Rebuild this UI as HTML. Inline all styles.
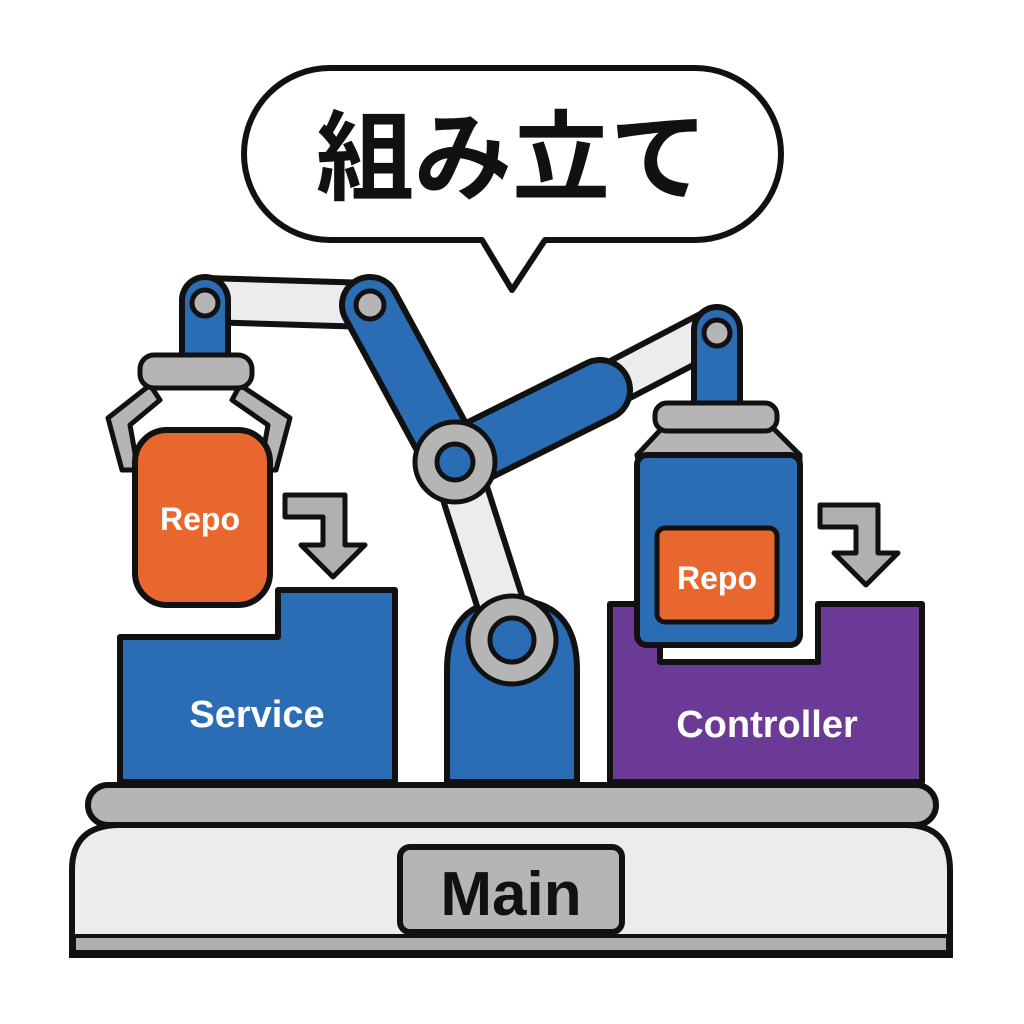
<!DOCTYPE html>
<html><head><meta charset="utf-8"><style>
html,body{margin:0;padding:0;background:#fff}
svg{display:block}
text{font-family:"Liberation Sans","Noto Sans CJK JP",sans-serif;font-weight:bold}
</style></head><body>
<svg width="1024" height="1024" viewBox="0 0 1024 1024" xmlns="http://www.w3.org/2000/svg">
<rect width="1024" height="1024" fill="#fff"/>
<!-- speech bubble -->
<path d="M330,68 H695 A85,85 0 0 1 695,240 H545 L512,290 L482,240 H330 A85,85 0 0 1 330,68 Z" fill="#fff" stroke="#111" stroke-width="6" stroke-linejoin="round"/>
<text x="512" y="192" font-size="98" text-anchor="middle" fill="#111">組み立て</text>

<!-- base platform -->
<path d="M72,955 V870 Q72,825 120,825 H905 Q950,825 950,870 V955 Z" fill="#ececec" stroke="#111" stroke-width="6"/>
<rect x="74" y="936" width="874" height="16" fill="#b0b0b0" stroke="#111" stroke-width="4"/>
<rect x="88" y="785" width="848" height="40" rx="20" fill="#b5b5b5" stroke="#111" stroke-width="6"/>
<rect x="400" y="847" width="222" height="85" rx="10" fill="#b5b5b5" stroke="#111" stroke-width="6"/>
<text x="511" y="915" font-size="62" text-anchor="middle" fill="#111">Main</text>

<!-- service -->
<path d="M120,637 H278 V590 H395 V782 H120 Z" fill="#2b6db5" stroke="#111" stroke-width="6" stroke-linejoin="round"/>
<text x="257" y="727" font-size="38" text-anchor="middle" fill="#fff">Service</text>

<!-- controller -->
<path d="M610,604 H660 V662 H818 V604 H922 V782 H610 Z" fill="#6b3a96" stroke="#111" stroke-width="6" stroke-linejoin="round"/>
<text x="767" y="737" font-size="38" text-anchor="middle" fill="#fff">Controller</text>

<!-- arrows -->
<g fill="#b0b0b0" stroke="#111" stroke-width="5" stroke-linejoin="round">
<path d="M285,495 H345 V545 H365 L333,577 L301,545 H323 V517 H285 Z"/>
<path d="M820,505 H878 V553 H898 L866,585 L834,553 H856 V527 H820 Z"/>
</g>

<!-- robot arm base -->
<path d="M447,782 V670 Q447,600 512,600 Q577,600 577,670 V782 Z" fill="#2b6db5" stroke="#111" stroke-width="6"/>
<!-- white lower link -->
<line x1="455" y1="462" x2="512" y2="640" stroke="#111" stroke-width="52" stroke-linecap="round"/>
<line x1="455" y1="462" x2="512" y2="640" stroke="#ececec" stroke-width="40" stroke-linecap="round"/>
<!-- white upper-left link -->
<line x1="370" y1="305" x2="205" y2="300" stroke="#111" stroke-width="50" stroke-linecap="round"/>
<line x1="370" y1="305" x2="205" y2="300" stroke="#ececec" stroke-width="38" stroke-linecap="round"/>
<!-- white right link -->
<line x1="600" y1="390" x2="715" y2="330" stroke="#111" stroke-width="48" stroke-linecap="round"/>
<line x1="600" y1="390" x2="715" y2="330" stroke="#ececec" stroke-width="36" stroke-linecap="round"/>
<!-- blue links -->
<line x1="455" y1="462" x2="370" y2="305" stroke="#111" stroke-width="62" stroke-linecap="round"/>
<line x1="455" y1="462" x2="370" y2="305" stroke="#2b6db5" stroke-width="50" stroke-linecap="round"/>
<line x1="455" y1="462" x2="600" y2="390" stroke="#111" stroke-width="66" stroke-linecap="round"/>
<line x1="455" y1="462" x2="600" y2="390" stroke="#2b6db5" stroke-width="54" stroke-linecap="round"/>
<line x1="205" y1="300" x2="205" y2="360" stroke="#111" stroke-width="52" stroke-linecap="round"/>
<line x1="205" y1="300" x2="205" y2="360" stroke="#2b6db5" stroke-width="40" stroke-linecap="round"/>
<line x1="717" y1="330" x2="717" y2="405" stroke="#111" stroke-width="52" stroke-linecap="round"/>
<line x1="717" y1="330" x2="717" y2="405" stroke="#2b6db5" stroke-width="40" stroke-linecap="round"/>
<!-- joints -->
<g stroke="#111" stroke-width="5">
<circle cx="512" cy="640" r="44" fill="#b5b5b5"/><circle cx="512" cy="640" r="22" fill="#2b6db5"/>
<circle cx="455" cy="462" r="40" fill="#b5b5b5"/><circle cx="455" cy="462" r="18" fill="#2b6db5"/>
<circle cx="370" cy="305" r="14" fill="#b5b5b5"/>
<circle cx="205" cy="303" r="13" fill="#b5b5b5"/>
<circle cx="717" cy="333" r="13" fill="#b5b5b5"/>
</g>

<!-- left gripper -->
<g fill="#b5b5b5" stroke="#111" stroke-width="5" stroke-linejoin="round">
<path d="M150,385 L108,418 L122,470 L138,470 L130,425 L160,400 Z"/>
<path d="M240,385 L290,418 L276,470 L260,470 L268,425 L232,400 Z"/>
<rect x="140" y="355" width="112" height="33" rx="14"/>
</g>
<rect x="135" y="430" width="135" height="175" rx="32" fill="#e8672e" stroke="#111" stroke-width="6"/>
<text x="200" y="530" font-size="32" text-anchor="middle" fill="#fff">Repo</text>

<!-- right gripper -->
<g fill="#b5b5b5" stroke="#111" stroke-width="5" stroke-linejoin="round">
<path d="M665,425 L637,455 L640,470 L800,470 L800,455 L770,425 Z"/>
<rect x="655" y="403" width="122" height="28" rx="12"/>
</g>
<rect x="637" y="455" width="163" height="190" rx="10" fill="#2b6db5" stroke="#111" stroke-width="6"/>
<rect x="657" y="528" width="120" height="94" rx="8" fill="#e8672e" stroke="#111" stroke-width="5"/>
<text x="717" y="589" font-size="32" text-anchor="middle" fill="#fff">Repo</text>
</svg>
</body></html>
